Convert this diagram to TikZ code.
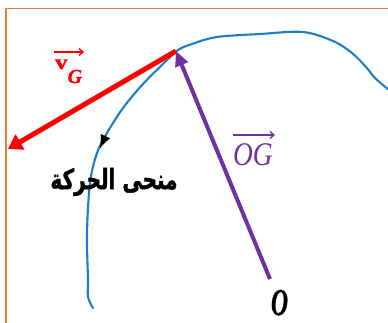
\documentclass[tikz,border=0pt]{standalone}
\usepackage{fontspec}
\usetikzlibrary{arrows.meta}
\newfontfamily\arabicfont[Script=Arabic, BoldFeatures={FakeBold=1.5}]{DejaVu Sans}
\newfontfamily\lblfont[BoldFeatures={FakeBold=1}, BoldItalicFeatures={FakeBold=1}]{Liberation Serif}
\TeXXeTstate=1
\definecolor{frameorange}{RGB}{237,125,49}
\definecolor{curveblue}{RGB}{30,125,200}
\definecolor{vecred}{RGB}{255,0,0}
\definecolor{vecpurple}{RGB}{112,48,160}
\tikzset{
  framestyle/.style={draw=frameorange, line width=1.6pt},
  curvestyle/.style={draw=curveblue, line width=2.1pt, line cap=round, line join=round},
  redvec/.style={draw=vecred, line width=5pt, -{Triangle[length=14pt,width=17pt]}},
  purplevec/.style={draw=vecpurple, line width=4pt, -{Triangle[length=15pt,width=13pt]}},
  overarrow/.style={line width=1.3pt, -{Straight Barb[length=4pt,width=7pt]}},
  lbl/.style={inner sep=0pt, outer sep=0pt}
}
\begin{document}
\begin{tikzpicture}[x=1pt,y=-1pt]
\useasboundingbox (0,0) rectangle (388,322);
% frame (top and left edges)
\draw[framestyle] (6,323) -- (6,8.5) -- (389,8.5);
% trajectory curve
\draw[curvestyle] plot[smooth, tension=0.55] coordinates {
 (93,308) (88,297) (88,280) (87,233) (90,183) (97,153) (107,133) (123,108)
 (143,84) (165,62) (178,50) (192,44) (217,37) (260,34) (303,32) (333,41)
 (352,53) (366,67) (375,78) (389,90)};
% direction arrow on the curve
\coordinate (ca) at (106,135);
\coordinate (cb) at (100,148);
\draw[-{Latex[length=13pt,width=10pt]}, line width=0.1pt, black] (ca) -- (cb);
% points
\coordinate (G) at (176,51);
\coordinate (O) at (270,279);
\coordinate (vtip) at (8,149);
% velocity vector
\draw[redvec, line cap=butt] (G) -- (vtip);
% position vector
\draw[purplevec] (O) -- (G);
% labels
\node[lbl, text=vecred, anchor=base west] (vlabel) at (55,69)
  {\lblfont\scalebox{1.2}[1]{\fontsize{21}{26}\selectfont\bfseries v}\raisebox{-14pt}{\fontsize{20}{22}\selectfont\bfseries\itshape G}};
\coordinate (vaL) at (54,52);
\coordinate (vaR) at (84,52);
\draw[overarrow, draw=vecred] (vaL) -- (vaR);
\node[lbl, text=vecpurple, anchor=base west] (oglabel) at (233,165)
  {\scalebox{0.83}[1]{\lblfont\fontsize{33}{36}\selectfont\itshape OG}};
\coordinate (ogL) at (233,135);
\coordinate (ogR) at (275,135);
\draw[overarrow, draw=vecpurple] (ogL) -- (ogR);
\node[lbl, text=black, anchor=base west] (olabel) at (271,315)
  {\scalebox{0.62}[1]{\lblfont\fontsize{38}{40}\selectfont\bfseries\itshape O}};
\node[lbl, text=black] (arabic) at (114,182)
  {\scalebox{0.8}[1.12]{\fontsize{25}{30}\selectfont\arabicfont\bfseries\beginR منحى الحركة\endR}};
\end{tikzpicture}
\end{document}
